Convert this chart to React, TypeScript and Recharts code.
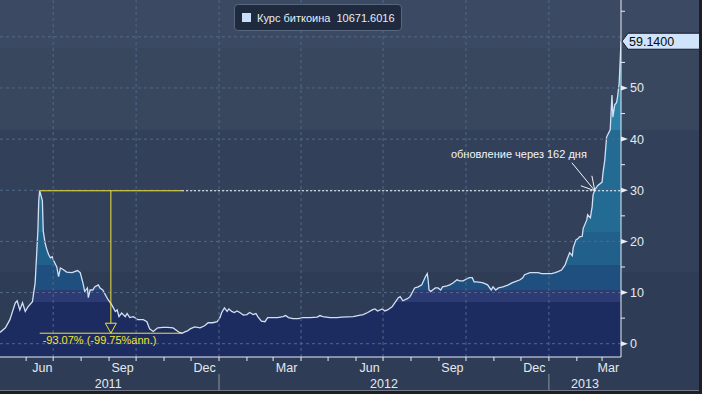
import React from 'react'
import { AreaChart, Area, XAxis, YAxis, ReferenceLine, ReferenceDot } from 'recharts'

// Mt.Gox BTC/USD (one row per month)
const dates = [
  '2011-05-03', '2011-05-09', '2011-05-14', '2011-05-20', '2011-05-22', '2011-05-25', '2011-05-28', '2011-05-31',
  '2011-06-03', '2011-06-08', '2011-06-09', '2011-06-11', '2011-06-14', '2011-06-15', '2011-06-16', '2011-06-19', '2011-06-20', '2011-06-22', '2011-06-24', '2011-06-26', '2011-06-28', '2011-06-30',
  '2011-07-01', '2011-07-05', '2011-07-07', '2011-07-09', '2011-07-12', '2011-07-16', '2011-07-22', '2011-07-28', '2011-07-31',
  '2011-08-03', '2011-08-05', '2011-08-08', '2011-08-09', '2011-08-11', '2011-08-14', '2011-08-16', '2011-08-20', '2011-08-22', '2011-08-25', '2011-08-29', '2011-08-31',
  '2011-09-04', '2011-09-08', '2011-09-10', '2011-09-12', '2011-09-15', '2011-09-19', '2011-09-21', '2011-09-24', '2011-09-28',
  '2011-10-03', '2011-10-09', '2011-10-13', '2011-10-16', '2011-10-20', '2011-10-25', '2011-10-31',
  '2011-11-05', '2011-11-11', '2011-11-15', '2011-11-18', '2011-11-21', '2011-11-24', '2011-11-27', '2011-11-30',
  '2011-12-05', '2011-12-11', '2011-12-16', '2011-12-20', '2011-12-25', '2011-12-30',
  '2012-01-02', '2012-01-04', '2012-01-07', '2012-01-10', '2012-01-12', '2012-01-15', '2012-01-18', '2012-01-21', '2012-01-24', '2012-01-28',
  '2012-02-01', '2012-02-04', '2012-02-08', '2012-02-11', '2012-02-13', '2012-02-17', '2012-02-21', '2012-02-24',
  '2012-03-01', '2012-03-06', '2012-03-12', '2012-03-15', '2012-03-18', '2012-03-23', '2012-03-29',
  '2012-04-03', '2012-04-11', '2012-04-19', '2012-04-22', '2012-04-25',
  '2012-05-03', '2012-05-11', '2012-05-16', '2012-05-29',
  '2012-06-03', '2012-06-09', '2012-06-14', '2012-06-19', '2012-06-22', '2012-06-25', '2012-06-30',
  '2012-07-03', '2012-07-06', '2012-07-11', '2012-07-14', '2012-07-18', '2012-07-20', '2012-07-23', '2012-07-28', '2012-07-31',
  '2012-08-03', '2012-08-05', '2012-08-09', '2012-08-13', '2012-08-14', '2012-08-17', '2012-08-19', '2012-08-20', '2012-08-21', '2012-08-23', '2012-08-25', '2012-08-28', '2012-08-31',
  '2012-09-03', '2012-09-05', '2012-09-10', '2012-09-13', '2012-09-17', '2012-09-21', '2012-09-24', '2012-09-28',
  '2012-10-02', '2012-10-05', '2012-10-08', '2012-10-10', '2012-10-13', '2012-10-17', '2012-10-20', '2012-10-25', '2012-10-29', '2012-10-31',
  '2012-11-03', '2012-11-06', '2012-11-11', '2012-11-17', '2012-11-21', '2012-11-24', '2012-11-30',
  '2012-12-03', '2012-12-05', '2012-12-11', '2012-12-16', '2012-12-20', '2012-12-24', '2012-12-30',
  '2013-01-04', '2013-01-08', '2013-01-11', '2013-01-15', '2013-01-19', '2013-01-21', '2013-01-24', '2013-01-27', '2013-01-28', '2013-01-31',
  '2013-02-02', '2013-02-04', '2013-02-07', '2013-02-08', '2013-02-12', '2013-02-13', '2013-02-16', '2013-02-18', '2013-02-19', '2013-02-21', '2013-02-24',
  '2013-03-01', '2013-03-02', '2013-03-04', '2013-03-06', '2013-03-10', '2013-03-12', '2013-03-13', '2013-03-15', '2013-03-17', '2013-03-18', '2013-03-20', '2013-03-21', '2013-03-22',
]

const prices = [
  2.2, 3.1, 4.7, 8.0, 8.4, 6.6, 8.0, 6.3,
  7.2, 8.2, 9.5, 11.9, 22.0, 28.0, 29.9, 28.0, 22.0, 19.7, 18.4, 17.4, 16.8, 17.0,
  16.4, 15.0, 13.1, 14.8, 14.5, 14.0, 13.9, 14.3, 13.9,
  11.9, 10.2, 10.9, 9.0, 10.5, 10.5, 11.1, 11.5, 10.9, 10.5, 9.2, 8.6,
  7.6, 6.3, 6.6, 5.3, 6.0, 5.3, 5.9, 5.1, 5.3,
  4.7, 4.7, 4.3, 2.9, 2.4, 3.1, 3.2,
  3.2, 3.1, 2.6, 2.2, 2.05, 2.3, 2.5, 2.9,
  3.3, 3.1, 3.5, 4.1, 4.1, 4.3,
  5.1, 6.1, 7.0, 6.3, 6.8, 6.3, 6.1, 6.4, 6.1, 5.6,
  5.7, 6.1, 5.7, 5.9, 5.3, 4.4, 4.3, 5.1,
  5.1, 5.1, 5.3, 5.5, 5.1, 4.9, 4.9,
  5.1, 5.1, 5.2, 5.5, 5.3,
  5.1, 5.1, 5.2, 5.3,
  5.5, 5.7, 6.1, 6.6, 6.8, 6.4, 6.8,
  6.4, 6.6, 7.2, 8.0, 9.0, 9.2, 8.4, 8.8, 9.2,
  10.2, 10.9, 11.1, 11.5, 11.9, 13.1, 13.7, 12.5, 10.5, 10.2, 10.5, 10.9, 10.9,
  10.5, 11.1, 11.3, 11.5, 11.9, 12.5, 12.3, 12.3,
  12.7, 12.9, 12.9, 12.1, 12.1, 12.0, 11.9, 11.5, 10.5, 11.1,
  10.5, 10.9, 11.1, 11.5, 11.9, 12.1, 12.5,
  12.9, 13.5, 13.9, 13.9, 13.9, 13.7, 13.7,
  13.7, 13.9, 14.1, 14.4, 15.4, 16.4, 17.8, 17.2, 18.8, 20.3,
  20.5, 20.9, 21.0, 22.5, 24.2, 25.2, 24.6, 26.8, 29.1, 30.1, 30.9,
  31.6, 33.4, 35.9, 40.4, 41.8, 48.6, 44.3, 46.7, 47.1, 48.0, 51.0, 55.0, 59.14,
]

const monthTicks = [
  '2011-06-01', '2011-07-01', '2011-08-01', '2011-09-01', '2011-10-01', '2011-11-01', '2011-12-01',
  '2012-01-01', '2012-02-01', '2012-03-01', '2012-04-01', '2012-05-01', '2012-06-01', '2012-07-01',
  '2012-08-01', '2012-09-01', '2012-10-01', '2012-11-01', '2012-12-01',
  '2013-01-01', '2013-02-01', '2013-03-01',
]
const monthLabelDates = ['2011-06-19', '2011-09-16', '2011-12-16', '2012-03-16', '2012-06-16', '2012-09-16', '2012-12-16', '2013-03-08']
const monthLabelTexts = ['Jun', 'Sep', 'Dec', 'Mar', 'Jun', 'Sep', 'Dec', 'Mar']
const yearLabelDates = ['2011-08-31', '2012-07-02', '2013-02-10']
const yearLabelTexts = ['2011', '2012', '2013']
const gridDates = ['2011-07-01', '2011-10-01', '2012-01-01', '2012-04-01', '2012-07-01', '2012-10-01', '2013-01-01']
const gridValues = [0, 10, 20, 30, 40, 50, 60]
const yTicks = [0, 5, 10, 15, 20, 25, 30, 35, 40, 45, 50, 55, 60, 65]

// drawdown / recovery annotation
const peakDate = '2011-06-16'
const troughDate = '2011-11-21'
const drawdownMid = '2011-09-03'
const peakPrice = 29.9
const troughPrice = 2.05
const recoveryDate = '2013-02-21'
const lastDate = '2013-03-22'
const lastPrice = 59.14

const FONT = '"Liberation Sans", Arial, sans-serif'
const YELLOW = '#f2e43a'
const LABEL = '#e4e9f0'

const ts = (s: string) => Date.parse(s)
const data = dates.map((d, i) => ({ t: ts(d), price: prices[i] }))

const monthTickSet = new Set(monthTicks.map(ts))
const labelMap = new Map<number, { text: string; row: number }>()
monthLabelDates.forEach((d, i) => labelMap.set(ts(d), { text: monthLabelTexts[i], row: 0 }))
yearLabelDates.forEach((d, i) => labelMap.set(ts(d), { text: yearLabelTexts[i], row: 1 }))
const xTicks = [...monthTickSet, ...labelMap.keys()].sort((a, b) => a - b)

const XTick = ({ x, y, payload }: any) => {
  const v = payload.value
  if (monthTickSet.has(v)) {
    const jan = new Date(v).getUTCMonth() === 0
    return (
      <g>
        <line x1={x} y1={y} x2={x} y2={y + 4} stroke="#e9eef5" />
        {jan && <line x1={x} y1={y + 17} x2={x} y2={y + 33} stroke="#8b95a3" />}
      </g>
    )
  }
  const lab = labelMap.get(v)
  if (!lab) return <g />
  return (
    <text x={x} y={y + (lab.row === 0 ? 14.5 : 30.5)} textAnchor="middle" fill={LABEL} fontSize={12.5} fontFamily={FONT}>
      {lab.text}
    </text>
  )
}

const YTick = ({ x, y, payload }: any) => {
  const v = payload.value
  // 60 sits under the last-price tag in the original
  if (v === 60) return <g />
  if (v % 10 !== 0) return <line x1={x} y1={y} x2={x + 4} y2={y} stroke="#e9eef5" />
  return (
    <g>
      <polygon points={`${x},${y - 2.5} ${x + 7},${y} ${x},${y + 2.5}`} fill="#e9eef5" />
      <text x={x + 9} y={y + 4.5} fill={LABEL} fontSize={12.5} fontFamily={FONT}>{v}</text>
    </g>
  )
}

export default function App() {
  return (
    <div
      style={{
        position: 'fixed',
        left: 0,
        top: 0,
        width: 702,
        height: 394,
        fontFamily: FONT,
        background:
          'linear-gradient(to bottom, #3c4962 0px, #3c4962 48px, #38465e 48px, #38465e 130px, #334059 130px, #334059 272px, #2f3c55 272px)',
      }}
    >
      <AreaChart width={702} height={394} data={data} margin={{ top: 0, right: 0, bottom: 0, left: 0 }}>
        <defs>
          <linearGradient id="btcFill" gradientUnits="userSpaceOnUse" x1="0" y1="0" x2="0" y2="357">
            <stop offset="0.364" stopColor="#2a80a6" />
            <stop offset="0.364" stopColor="#236b93" />
            <stop offset="0.65" stopColor="#236b93" />
            <stop offset="0.65" stopColor="#21608a" />
            <stop offset="0.742" stopColor="#21608a" />
            <stop offset="0.742" stopColor="#1f4f7e" />
            <stop offset="0.812" stopColor="#1f4f7e" />
            <stop offset="0.812" stopColor="#2c3b73" />
            <stop offset="0.846" stopColor="#2c3b73" />
            <stop offset="0.846" stopColor="#1c2b60" />
          </linearGradient>
        </defs>
        <XAxis
          dataKey="t"
          type="number"
          domain={[ts(dates[0]), ts(lastDate)]}
          allowDataOverflow
          ticks={xTicks}
          interval={0}
          height={37}
          tickSize={0}
          tickMargin={0}
          tickLine={false}
          axisLine={{ stroke: '#e9eef5' }}
          tick={(p: any) => <XTick {...p} />}
        />
        <YAxis
          orientation="right"
          type="number"
          domain={[-2.6, 67.2]}
          allowDataOverflow
          ticks={yTicks}
          interval={0}
          width={81}
          tickSize={0}
          tickMargin={0}
          tickLine={false}
          axisLine={{ stroke: '#e9eef5' }}
          tick={(p: any) => <YTick {...p} />}
        />
        <Area
          type="linear"
          dataKey="price"
          stroke="#cfe0f5"
          strokeWidth={1.3}
          fill="url(#btcFill)"
          fillOpacity={1}
          baseValue="dataMin"
          dot={false}
          activeDot={false}
          isAnimationActive={false}
        />
        {gridValues.map((v) => (
          <ReferenceLine key={'h' + v} y={v} stroke="#50698a" strokeDasharray="3 3" />
        ))}
        {gridDates.map((d) => (
          <ReferenceLine key={'v' + d} x={ts(d)} stroke="#50698a" strokeDasharray="3 3" />
        ))}
        <ReferenceLine
          segment={[{ x: ts(troughDate), y: peakPrice }, { x: ts(lastDate), y: peakPrice }]}
          stroke="#ffffff"
          strokeDasharray="2 2"
        />
        <ReferenceLine segment={[{ x: ts(peakDate), y: peakPrice }, { x: ts(troughDate), y: peakPrice }]} stroke={YELLOW} />
        <ReferenceLine segment={[{ x: ts(peakDate), y: troughPrice }, { x: ts(troughDate), y: troughPrice }]} stroke={YELLOW} />
        <ReferenceLine segment={[{ x: ts(drawdownMid), y: peakPrice }, { x: ts(drawdownMid), y: troughPrice }]} stroke={YELLOW} />
        <ReferenceDot
          x={ts(drawdownMid)}
          y={troughPrice}
          shape={({ cx, cy }: any) => (
            <polygon points={`${cx - 5.5},${cy - 10} ${cx + 5.5},${cy - 10} ${cx},${cy}`} fill="#1c2b60" stroke={YELLOW} />
          )}
        />
        <ReferenceDot
          x={ts(peakDate)}
          y={troughPrice}
          shape={({ cx, cy }: any) => (
            <text x={cx + 3} y={cy + 11} fill={YELLOW} fontSize={11} fontFamily={FONT}>
              -93.07% (-99.75%ann.)
            </text>
          )}
        />
        <ReferenceDot
          x={ts(recoveryDate)}
          y={peakPrice}
          shape={({ cx, cy }: any) => (
            <g stroke="#f2f5f9" strokeWidth={1}>
              <line x1={cx - 23} y1={cy - 28} x2={cx} y2={cy} />
              <line x1={cx - 14} y1={cy - 5} x2={cx} y2={cy} />
              <line x1={cx - 3} y1={cy - 15} x2={cx} y2={cy} />
              <text x={cx - 8} y={cy - 33} textAnchor="end" fill="#f2f5f9" stroke="none" fontSize={11} fontFamily={FONT}>
                обновление через 162 дня
              </text>
            </g>
          )}
        />
        <ReferenceDot
          x={ts(lastDate)}
          y={lastPrice}
          shape={({ cx, cy }: any) => (
            <g>
              <polygon
                points={`${cx + 1},${cy} ${cx + 7},${cy - 8} ${cx + 79},${cy - 8} ${cx + 79},${cy + 8} ${cx + 7},${cy + 8}`}
                fill="#cfe3fb"
                stroke="#1a1d24"
              />
              <text x={cx + 8} y={cy + 4.5} fill="#0a0a0a" fontSize={12.5} fontFamily={FONT}>
                {lastPrice.toFixed(4)}
              </text>
            </g>
          )}
        />
      </AreaChart>

      <div
        style={{
          position: 'absolute',
          left: 234,
          top: 4,
          width: 166,
          height: 25,
          border: '1px solid #58667e',
          borderRadius: 4,
          background: '#1f2a3e',
          display: 'flex',
          alignItems: 'center',
          color: '#e8edf4',
          fontSize: 11,
        }}
      >
        <span style={{ width: 9, height: 9, background: '#c8defa', marginLeft: 7, marginRight: 6 }} />
        <span style={{ whiteSpace: 'pre' }}>Курс биткоина  10671.6016</span>
      </div>

      <div style={{ position: 'absolute', left: 0, top: 390, width: 702, height: 4, background: '#1c1f26', borderTop: '1px solid #737a85' }} />
      <div style={{ position: 'absolute', left: 699, top: 0, width: 3, height: 394, background: '#1c1f26' }} />
    </div>
  )
}
